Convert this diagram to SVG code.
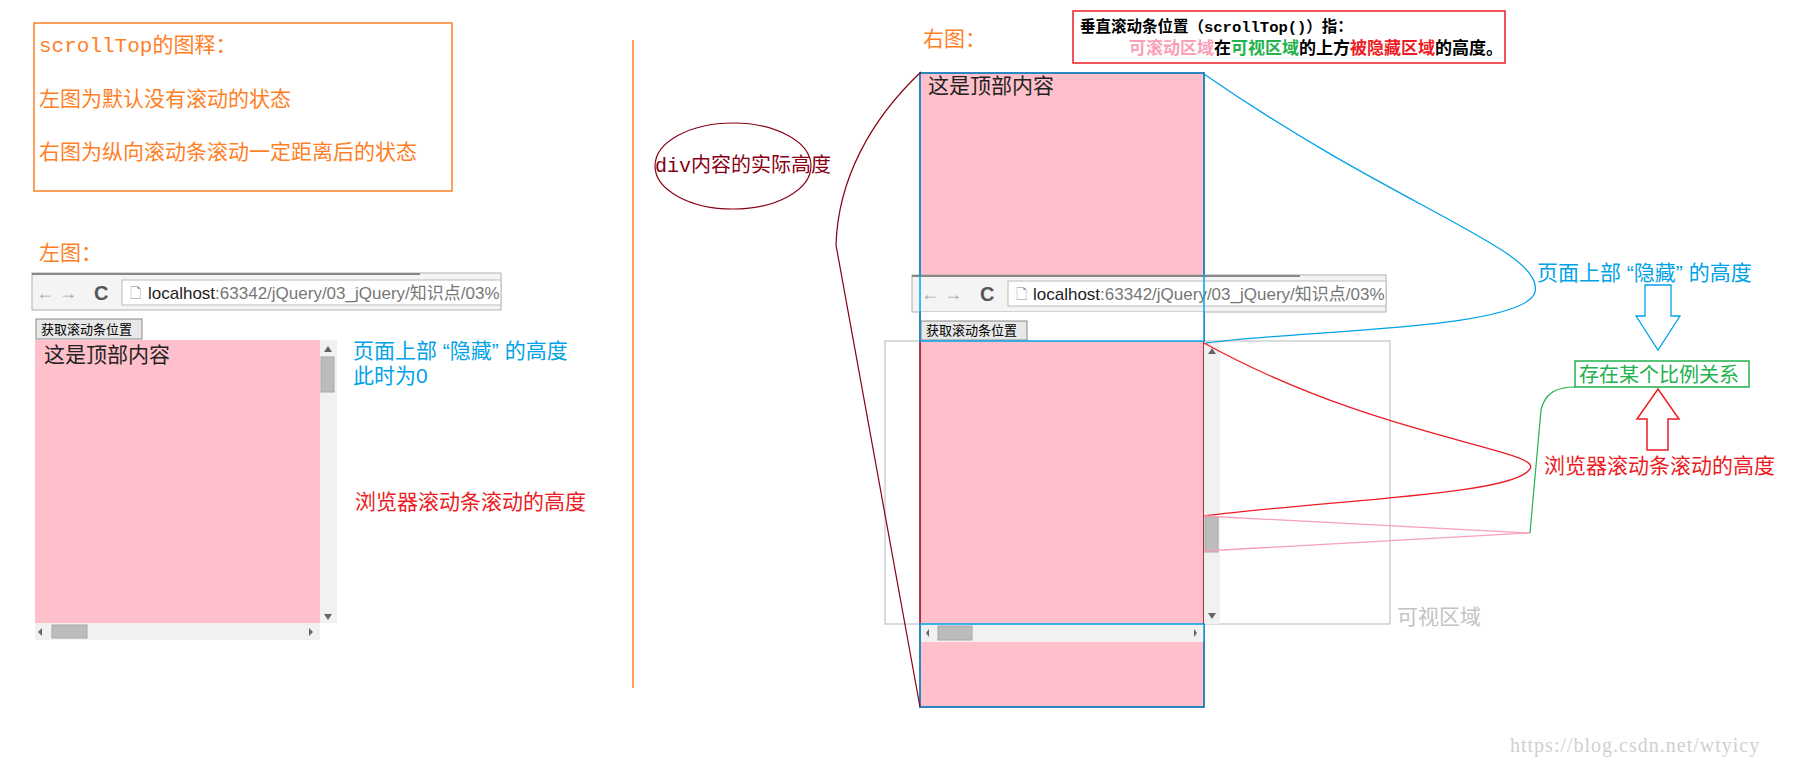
<svg xmlns="http://www.w3.org/2000/svg" width="1796" height="766" viewBox="0 0 1796 766">
<style>
text{font-family:"Liberation Serif","Noto Sans CJK SC",serif}
.s{font-family:"Liberation Sans","Noto Sans CJK SC",sans-serif}
.m{font-family:"Liberation Mono","Noto Sans CJK SC",monospace}
.or{fill:#ff7f27;font-size:21px}
.tb{fill:#f4f4f4;stroke:#b0b0b0}
.pk{fill:#ffc0cb}
.sb{fill:#f1f1f1}
.th{fill:#bcbcbc;stroke:#a8a8a8}
.btn{fill:#e8e8e8;stroke:#888}
.blue{fill:#00a2e8;font-size:21px}
.red{fill:#ed1c24;font-size:21px}
</style>
<g id="legend">
<rect x="34" y="23" width="418" height="168" fill="none" stroke="#ff7f27" stroke-width="1.5"/>
<text x="39" y="52" class="or m" font-size="20">scrollTop的图释：</text>
<text x="39" y="106" class="or">左图为默认没有滚动的状态</text>
<text x="39" y="159" class="or">右图为纵向滚动条滚动一定距离后的状态</text>
</g>
<line x1="633" y1="40" x2="633" y2="688" stroke="#ff7f27" stroke-width="1.5"/>
<g id="left">
<text x="39" y="260" class="or">左图：</text>
<rect x="32" y="273" width="469" height="37" class="tb"/>
<line x1="32" y1="274" x2="420" y2="274" stroke="#888" stroke-width="2"/>
<text x="36" y="299" fill="#aaa" font-size="18" class="s">← →</text>
<text x="94" y="300" fill="#555" font-size="20" font-weight="bold" class="s">C</text>
<rect x="122" y="280" width="379" height="25" fill="#fff" stroke="#bbb"/>
<text x="130" y="298" fill="#888" font-size="14" class="s">🗋</text>
<text x="148" y="299" font-size="17" fill="#777" class="s"><tspan fill="#222">localhost</tspan>:63342/jQuery/03_jQuery/知识点/03%</text>
<rect x="36" y="319" width="106" height="20" class="btn"/>
<text x="41" y="334" font-size="13" fill="#000" class="s">获取滚动条位置</text>
<rect x="35" y="340" width="285" height="283" class="pk"/>
<text x="44" y="362" font-size="21" fill="#222" class="s">这是顶部内容</text>
<rect x="320" y="340" width="17" height="283" class="sb"/>
<rect x="321" y="357" width="13" height="35" class="th"/>
<path d="M324,352 L328,346 L332,352Z M324,614 L328,620 L332,614Z" fill="#666"/>
<rect x="35" y="623" width="285" height="17" class="sb"/>
<rect x="52" y="625" width="35" height="13" class="th"/>
<path d="M42,628 L38,632 L42,636Z M309,628 L313,632 L309,636Z" fill="#666"/>
<text x="353" y="358" class="blue s">页面上部 “隐藏” 的高度</text>
<text x="353" y="383" class="blue s">此时为0</text>
<text x="355" y="509" class="red s">浏览器滚动条滚动的高度</text>
</g>
<g id="right">
<text x="923" y="46" class="or">右图：</text>
<rect x="1073" y="11" width="432" height="52" fill="#fff" stroke="#ed1c24" stroke-width="1.5"/>
<text x="1080" y="32" font-size="15.5" font-weight="bold" fill="#000">垂直滚动条位置（<tspan class="m">scrollTop()</tspan>）指：</text>
<text x="1129" y="54" font-size="17" font-weight="bold"><tspan fill="#f9a0b8">可滚动区域</tspan><tspan fill="#000">在</tspan><tspan fill="#22b14c">可视区域</tspan><tspan fill="#000">的上方</tspan><tspan fill="#ed1c24">被隐藏区域</tspan><tspan fill="#000">的高度。</tspan></text>
<ellipse cx="733" cy="166" rx="78" ry="43" fill="none" stroke="#880015" stroke-width="1.2"/>
<text x="655" y="172" font-size="20" fill="#880015"><tspan class="m">div</tspan>内容的实际高度</text>
<rect x="885" y="341" width="505" height="283" fill="none" stroke="#c3c3c3" stroke-width="1.2"/>
<rect x="920" y="73" width="284" height="634" class="pk" stroke="#880015" stroke-width="1.5"/>
<text x="928" y="93" font-size="21" fill="#222" class="s">这是顶部内容</text>
<rect x="912" y="275" width="474" height="37" class="tb"/>
<line x1="912" y1="276" x2="1300" y2="276" stroke="#888" stroke-width="2"/>
<text x="921" y="300" fill="#aaa" font-size="18" class="s">← →</text>
<text x="980" y="301" fill="#555" font-size="20" font-weight="bold" class="s">C</text>
<rect x="1008" y="281" width="378" height="25" fill="#fff" stroke="#bbb"/>
<text x="1016" y="299" fill="#888" font-size="14" class="s">🗋</text>
<text x="1033" y="300" font-size="17" fill="#777" class="s"><tspan fill="#222">localhost</tspan>:63342/jQuery/03_jQuery/知识点/03%</text>
<rect x="921" y="312" width="283" height="29" fill="#fff"/>
<rect x="921" y="321" width="106" height="19" class="btn"/>
<text x="926" y="335" font-size="13" fill="#000" class="s">获取滚动条位置</text>
<rect x="920" y="73" width="284" height="268" fill="none" stroke="#00a2e8" stroke-width="1.5"/>
<rect x="1204" y="342" width="16" height="282" class="sb"/>
<rect x="1205" y="517" width="13" height="35" class="th"/>
<path d="M1208,354 L1212,348 L1216,354Z M1208,613 L1212,619 L1216,613Z" fill="#666"/>
<rect x="921" y="624" width="283" height="18" class="sb"/>
<rect x="938" y="626" width="34" height="14" class="th"/>
<path d="M929,629 L926,633 L929,637Z M1194,629 L1197,633 L1194,637Z" fill="#666"/>
<rect x="920" y="624" width="284" height="83" fill="none" stroke="#00a2e8" stroke-width="1.5"/>
<text x="1397" y="624" font-size="21" fill="#c3c3c3" class="s">可视区域</text>
</g>
<g id="connectors" fill="none">
<path d="M921,72 C870,120 838,180 836,245 L920,707" stroke="#880015" stroke-width="1.2"/>
<path d="M1204,74 C1400,210 1545,250 1535,292 C1525,330 1300,330 1206,343" stroke="#00a2e8" stroke-width="1.3"/>
<path d="M1204,343 C1380,440 1550,450 1529,470 C1510,495 1330,500 1204,516" stroke="#ed1c24" stroke-width="1.3"/>
<path d="M1204,516 L1530,533 L1204,551" stroke="#f9a0b8" stroke-width="1.3"/>
<path d="M1530,533 L1541,410 C1545,392 1558,387 1575,387" stroke="#22b14c" stroke-width="1.2"/>
</g>
<g id="ratio">
<rect x="1575" y="361" width="174" height="26" fill="#fff" stroke="#22b14c" stroke-width="1.5"/>
<text x="1579" y="382" font-size="20" fill="#22b14c" class="s">存在某个比例关系</text>
</g>
<g id="arrows">
<path d="M1645,285 L1671,285 L1671,316 L1680,316 L1658,350 L1636,316 L1645,316Z" fill="#fff" stroke="#00a2e8" stroke-width="1.3"/>
<path d="M1647,450 L1668,450 L1668,419 L1679,419 L1658,389 L1637,419 L1647,419Z" fill="#fff" stroke="#ed1c24" stroke-width="1.5"/>
<text x="1537" y="280" class="blue s">页面上部 “隐藏” 的高度</text>
<text x="1544" y="473" class="red s">浏览器滚动条滚动的高度</text>
</g>
<text x="1510" y="752" font-size="20" letter-spacing="1" fill="#d0d0d0">https://blog.csdn.net/wtyicy</text>
</svg>
